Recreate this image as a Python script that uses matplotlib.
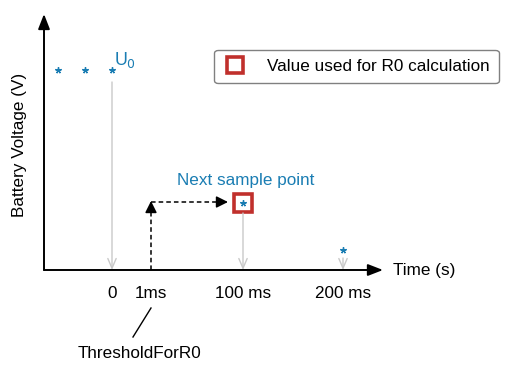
import matplotlib.pyplot as plt
from matplotlib.lines import Line2D

plt.rcParams['font.family'] = ['Liberation Sans', 'DejaVu Sans']

# schematic positions along the time axis (axis units) and their labels
tick_pos = [68, 107, 199, 299]
tick_labels = ["0", "1ms", "100 ms", "200 ms"]

# voltage samples (schematic units)
sample_x = [14, 41, 68, 199, 299]
sample_v = [200, 200, 200, 67, 20]

u0_x, u0_v = 68, 200
r0_x, r0_v = 199, 67
thr_x = 107

blue = "#1a7db3"
red = "#c0302c"
gray = "#c9c9c9"
fs = 12.3

fig = plt.figure(figsize=(5.13, 3.65), dpi=100)
W, H = 513, 365
ax = fig.add_axes([44 / W, (H - 270) / H, 339 / W, 256 / H])
ax.set_xlim(0, 339)
ax.set_ylim(0, 256)
ax.axis("off")

# axes with arrows
head = "-|>,head_length=0.9,head_width=0.35"
ax.annotate("", xy=(1, 0), xytext=(0, 0), xycoords="axes fraction",
            arrowprops=dict(arrowstyle=head, color="black", lw=1.4, shrinkA=0, shrinkB=0))
ax.annotate("", xy=(0, 1), xytext=(0, 0), xycoords="axes fraction",
            arrowprops=dict(arrowstyle=head, color="black", lw=1.4, shrinkA=0, shrinkB=0))

# gray drop arrows from samples to the time axis
for x, top in [(u0_x, 188), (r0_x, 57), (299, 12)]:
    ax.annotate("", xy=(x, 0), xytext=(x, top),
                arrowprops=dict(arrowstyle="->,head_length=0.7,head_width=0.3", color=gray,
                                lw=1.0, shrinkA=0, shrinkB=0))

# samples
ax.plot(sample_x, sample_v, linestyle="none", marker=(5, 2, 0), markersize=4.5,
        color=blue, markeredgewidth=1.0)

# value used for R0
ax.plot([r0_x], [r0_v], linestyle="none", marker="s", markersize=13.5,
        markerfacecolor="none", markeredgecolor=red, markeredgewidth=2.6)

# dashed path from threshold to next sample
ax.plot([thr_x, thr_x], [0, 60], linestyle=(0, (3, 2)), color="black", lw=1.1)
ax.annotate("", xy=(thr_x, 69), xytext=(thr_x, 58),
            arrowprops=dict(arrowstyle="-|>,head_length=0.7,head_width=0.35", color="black",
                            lw=1.1, shrinkA=0, shrinkB=0))
ax.plot([thr_x, 176], [68, 68], linestyle=(0, (3, 2)), color="black", lw=1.1)
ax.annotate("", xy=(184, 68), xytext=(174, 68),
            arrowprops=dict(arrowstyle="-|>,head_length=0.7,head_width=0.35", color="black",
                            lw=1.1, shrinkA=0, shrinkB=0))

# texts
ax.text(u0_x + 2, 200, "U$_0$", color=blue, fontsize=fs + 0.5, ha="left", va="bottom")
ax.text(202, 89, "Next sample point", color=blue, fontsize=fs, ha="center", va="center")
for p, lab in zip(tick_pos, tick_labels):
    ax.text(p, -23, lab, fontsize=fs, ha="center", va="center", clip_on=False)
ax.text(349, 0, "Time (s)", fontsize=fs, ha="left", va="center", clip_on=False)

ax.plot([thr_x, 89], [-38, -67], color="black", lw=1.0, clip_on=False)
ax.text(96, -83, "ThresholdForR0", fontsize=fs, ha="center", va="center", clip_on=False)

fig.text(20 / W, 1 - 145 / H, "Battery Voltage (V)", rotation=90, fontsize=fs,
         ha="center", va="center")

handle = Line2D([], [], linestyle="none", marker="s", markersize=12,
                markerfacecolor="none", markeredgecolor=red, markeredgewidth=2.6)
leg = fig.legend([handle], ["Value used for R0 calculation"], loc="center",
                 bbox_to_anchor=(356.5 / W, 1 - 66.5 / H), fontsize=fs, frameon=True,
                 fancybox=True, edgecolor="#808080", handletextpad=1.2, borderpad=0.55,
                 handlelength=1.3, borderaxespad=0)
leg.get_frame().set_linewidth(1.0)
leg.get_frame().set_alpha(1)

fig.savefig("out.png", dpi=100)
